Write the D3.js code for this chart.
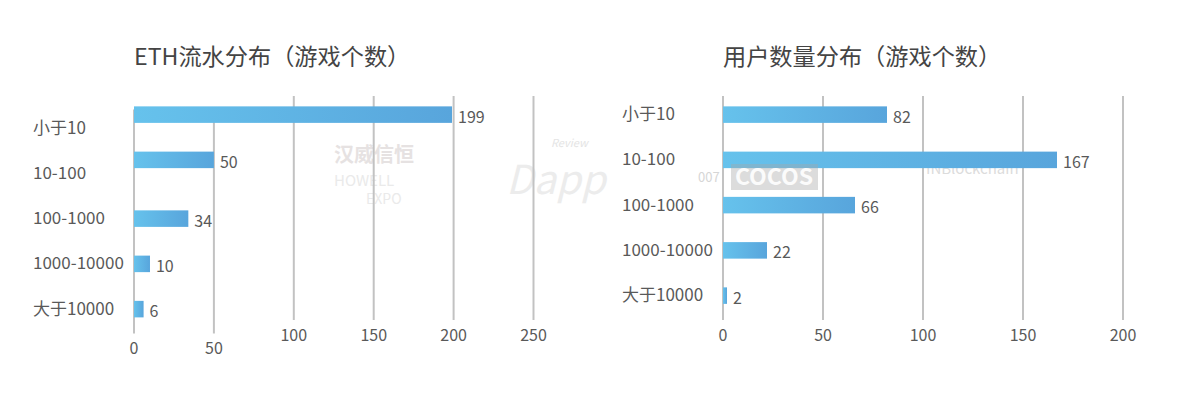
<!DOCTYPE html>
<html><head><meta charset="utf-8">
<script src="https://cdn.jsdelivr.net/npm/d3@7"></script>
<style>
body{margin:0;background:#fff}
svg{display:block}
text{font-family:"Noto Sans CJK SC","Noto Sans",sans-serif}
</style>
</head><body>
<svg id="chart" width="1192" height="394"></svg>
<script>
// ---- data ----
const categories = ["小于10", "10-100", "100-1000", "1000-10000", "大于10000"];
const ethValues = [199, 50, 34, 10, 6];
const userValues = [82, 167, 66, 22, 2];
const ethTicks = [0, 50, 100, 150, 200, 250];
const userTicks = [0, 50, 100, 150, 200];
const titles = ["ETH流水分布（游戏个数）", "用户数量分布（游戏个数）"];

// ---- layout ----
const svg = d3.select("#chart");
const defs = svg.append("defs");
const grad = defs.append("linearGradient").attr("id", "barGrad")
  .attr("x1", "0%").attr("x2", "100%").attr("y1", "0%").attr("y2", "0%");
grad.append("stop").attr("offset", "0%").attr("stop-color", "#66c2ec");
grad.append("stop").attr("offset", "100%").attr("stop-color", "#58a5dc");

const TEXT = "#595959";
const GRID = "#c2c2c2";
const gridTop = 96, gridBottom = 320;
const step = 45.25, bandTop = 92;

const panels = [
  {title: titles[0], values: ethValues, ticks: ethTicks, domain: [0, 250], range: [134, 533.5], labelX: 33, shift: 13.5, split: 2, tickSplit: 100},
  {title: titles[1], values: userValues, ticks: userTicks, domain: [0, 200], range: [723, 1123], labelX: 622, shift: 0, split: 0, tickSplit: Infinity}
];

// faint watermarks (behind chart)
const wm = svg.append("g").attr("class", "watermarks");
wm.append("text").attr("x", 334).attr("y", 162).attr("font-size", 20).attr("fill", "#e6e2e2").attr("font-weight", 700).text("汉威信恒");
wm.append("text").attr("x", 334).attr("y", 186).attr("font-size", 15).attr("fill", "#eaeaea").attr("font-family", "Liberation Sans").text("HOWELL");
wm.append("text").attr("x", 366).attr("y", 204).attr("font-size", 14).attr("fill", "#eaeaea").attr("font-family", "Liberation Sans").text("EXPO");
wm.append("text").attr("x", 506).attr("y", 194).attr("font-size", 40).attr("font-style", "italic").attr("fill", "#ececec").attr("font-family", "Open Sans").text("Dapp");
wm.append("text").attr("x", 551).attr("y", 147).attr("font-size", 11).attr("font-style", "italic").attr("fill", "#e4e4e4").attr("font-family", "Open Sans").text("Review");
wm.append("text").attr("x", 926).attr("y", 174).attr("font-size", 15).attr("fill", "#dcdcdc").attr("font-family", "Open Sans").text("INBlockchain");

panels.forEach(p => {
  const g = svg.append("g");
  const x = d3.scaleLinear().domain(p.domain).range(p.range);
  const y = d3.scaleBand().domain(categories)
    .range([bandTop + p.shift, bandTop + p.shift + step * categories.length])
    .paddingInner(0.635).paddingOuter(0.3175);

  // title
  g.append("text").attr("x", x(0)).attr("y", 55)
    .attr("dominant-baseline", "central")
    .attr("font-size", 23.2).attr("fill", "#444").text(p.title);

  // x axis with gridlines
  const ax = g.append("g").attr("transform", `translate(0,${gridBottom + p.shift})`)
    .call(d3.axisBottom(x).tickValues(p.ticks).tickFormat(d3.format("d"))
      .tickSize(-(gridBottom - gridTop)).tickPadding(9.5));
  ax.select(".domain").remove();
  ax.selectAll(".tick line").attr("stroke", GRID).attr("stroke-width", 2);
  ax.selectAll(".tick text").attr("fill", TEXT).attr("font-size", 16)
    .attr("font-family", "'Noto Sans CJK SC', sans-serif");
  ax.selectAll(".tick").attr("transform", d => `translate(${x(d)},${d >= p.tickSplit ? -p.shift : 0})`);

  // category labels
  const ay = g.append("g").attr("transform", `translate(${p.labelX},0)`)
    .call(d3.axisLeft(y).tickSize(0).tickPadding(0));
  ay.select(".domain").remove();
  ay.selectAll(".tick text").attr("text-anchor", "start").attr("x", 0)
    .attr("fill", TEXT).attr("font-size", 17)
    .attr("font-family", "'Noto Sans CJK SC', sans-serif");

  // bars
  const rows = categories.map((c, i) => ({c, v: p.values[i], off: i < p.split ? -p.shift : 0}));
  g.selectAll("rect.bar").data(rows).join("rect").attr("class", "bar")
    .attr("x", x(0)).attr("y", d => y(d.c) + d.off)
    .attr("width", d => x(d.v) - x(0)).attr("height", y.bandwidth())
    .attr("fill", "url(#barGrad)");

  // value labels
  g.selectAll("text.val").data(rows).join("text").attr("class", "val")
    .attr("x", d => x(d.v) + 6).attr("y", d => y(d.c) + d.off + y.bandwidth() / 2 + 1)
    .attr("dominant-baseline", "central")
    .attr("font-size", 16).attr("fill", TEXT).text(d => d.v);
});

// COCOS watermark (sits over the chart)
const cw = svg.append("g");
cw.append("rect").attr("x", 731).attr("y", 164).attr("width", 87).attr("height", 26)
  .attr("fill", "#a8a8a8").attr("opacity", 0.4);
cw.append("text").attr("x", 774).attr("y", 185).attr("text-anchor", "middle")
  .attr("font-size", 23).attr("font-weight", 700).attr("fill", "#fff").attr("opacity", 0.9)
  .attr("font-family", "Liberation Sans").text("COCOS");
cw.append("text").attr("x", 698).attr("y", 182)
  .attr("font-size", 13).attr("fill", "#d6d6d6").attr("font-family", "Liberation Sans").text("007");
</script>
</body></html>
